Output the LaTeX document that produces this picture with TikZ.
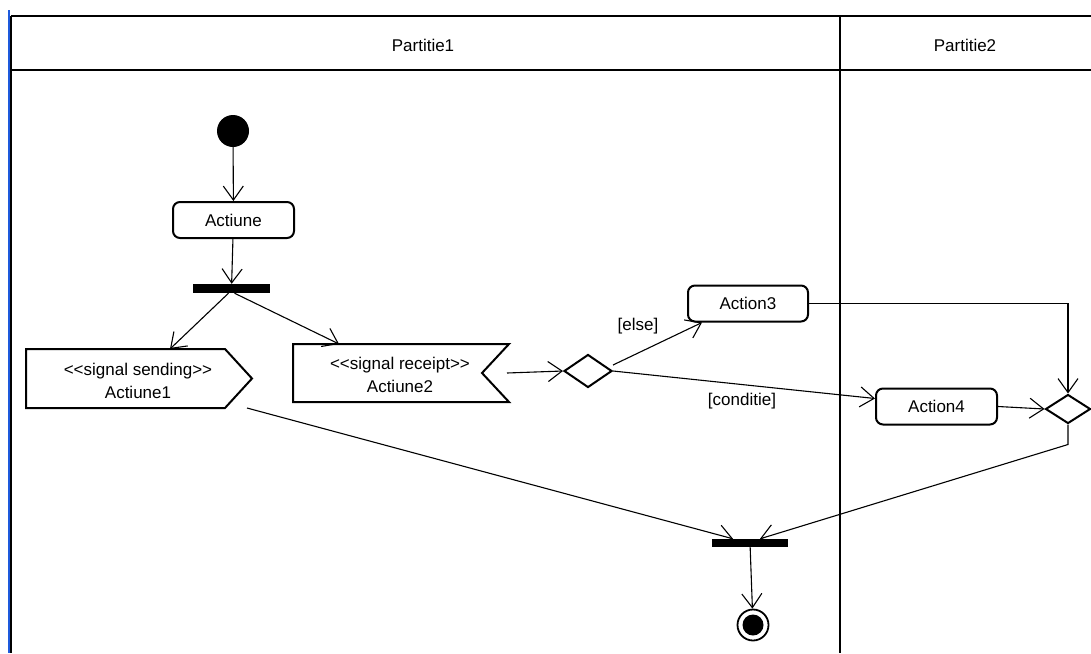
\documentclass[tikz,border=0pt]{standalone}
\usepackage{fontspec}
\setmainfont{Liberation Sans}
\usetikzlibrary{arrows.meta,shapes.geometric}

\definecolor{edgeblue}{RGB}{30,90,220}

\tikzset{
  lane/.style={line width=2.4pt, draw=black},
  lanetitle/.style={font=\fontsize{17}{20}\selectfont, inner sep=0pt},
  actbox/.style={draw, line width=2pt, rounded corners=7pt, minimum height=36pt,
    inner sep=0pt, font=\fontsize{17}{20}\selectfont},
  sigshape/.style={draw, line width=2pt, line join=miter},
  sigtext/.style={align=center, inner sep=0pt, font=\fontsize{17}{23}\selectfont},
  bar/.style={fill=black, draw=none, inner sep=0pt},
  startnode/.style={circle, fill=black, minimum size=32pt, inner sep=0pt},
  endnode/.style={circle, draw, line width=1.8pt, minimum size=31pt, inner sep=0pt,
    path picture={\fill (path picture bounding box.center) circle (10.5pt);}},
  decision/.style={diamond, draw, line width=2pt, inner sep=0pt},
  flow/.style={line width=1.1pt, -{Straight Barb[length=14pt,width=20pt,line width=1.1pt]}},
  plain/.style={line width=1.1pt},
  guard/.style={inner sep=0pt, font=\fontsize{17}{20}\selectfont},
}

\begin{document}
\begin{tikzpicture}[x=1pt,y=-1pt]
\useasboundingbox (0,0) rectangle (1091,653);

% swimlane frame
\draw[edgeblue, line width=2.6pt] (9,10) -- (9,653);
\draw[lane] (11,16) -- (1091,16);
\draw[lane] (11,70) -- (1091,70);
\draw[lane] (11,16) -- (11,653);
\draw[lane] (840,16) -- (840,653);
\node[lanetitle] (p1) at (423,45) {Partitie1};
\node[lanetitle] (p2) at (965,45) {Partitie2};

% nodes of the activity
\node[startnode] (start) at (233,131) {};
\node[actbox, minimum width=121pt] (act) at (233.5,220) {Actiune};
\node[bar, minimum width=77pt, minimum height=9pt] (fork) at (231.5,288.5) {};

% signal sending
\draw[sigshape] (26,349) -- (225,349) -- (252,378.5) -- (225,408) -- (26,408) -- cycle;
\node[sigtext] (sig1) at (138,381) {<\kern0pt<signal sending>\kern0pt>\\Actiune1};
\coordinate (s1in) at (170,349);
\coordinate (s1out) at (247,408);

% signal receipt
\draw[sigshape] (293,344) -- (509,344) -- (482,373) -- (509,402) -- (293,402) -- cycle;
\node[sigtext] (sig2) at (400,374.5) {<\kern0pt<signal receipt>\kern0pt>\\Actiune2};
\coordinate (s2in) at (339,344);
\coordinate (s2out) at (507,373);

\node[decision, minimum width=48pt, minimum height=33pt] (d1) at (588,371) {};
\node[actbox, minimum width=120pt] (a3) at (748,303.5) {Action3};
\node[actbox, minimum width=121pt] (a4) at (936.5,406.5) {Action4};
\node[decision, minimum width=45pt, minimum height=29pt] (d2) at (1068,409) {};
\node[bar, minimum width=76pt, minimum height=8pt] (join) at (750,543) {};
\node[endnode] (end) at (753,625) {};

% connectors
\draw[flow] (start) -- (act);
\draw[flow] (act) -- (fork);
\draw[flow] ([xshift=-3pt]fork.south) -- (s1in);
\draw[flow] ([xshift=3pt]fork.south) -- (s2in);
\draw[flow] (s2out) -- (d1.west);
\draw[flow] ([yshift=6pt]d1.east) -- ([xshift=15pt]a3.south west);
\node[guard] (lelse) at (638,326) {[else]};
\draw[flow] (d1.east) -- ([yshift=8pt]a4.west);
\node[guard] (lcond) at (742,401) {[conditie]};
\draw[flow] (a3.east) -| (d2.north);
\draw[flow] (a4.east) -- (d2.west);
\draw[flow] (d2.south) -- ++(0,20) -- ([xshift=10pt]join.north);
\draw[flow] (s1out) -- ([xshift=-17pt]join.north);
\draw[flow] (join) -- (end);
\end{tikzpicture}
\end{document}
